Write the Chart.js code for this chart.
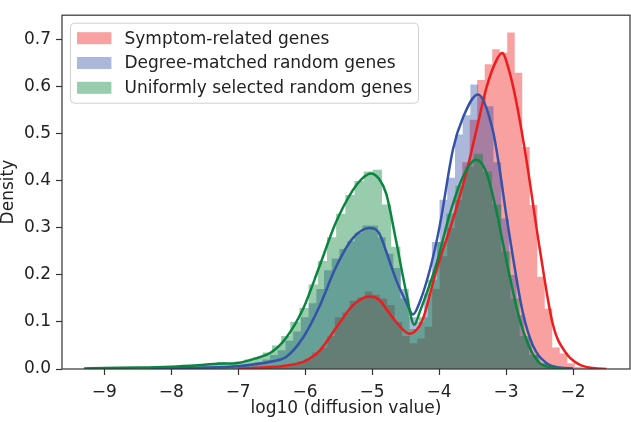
<!DOCTYPE html>
<html>
<head>
<meta charset="utf-8">
<script src="https://cdn.jsdelivr.net/npm/chart.js@4.4.1/dist/chart.umd.min.js"></script>
<style>
  html, body { margin: 0; padding: 0; background: #fff; }
</style>
</head>
<body>
<canvas id="chart" width="631" height="422"></canvas>
<script>
// series names (legend order)
const seriesNames = ['Symptom-related genes', 'Degree-matched random genes', 'Uniformly selected random genes'];

// tick labels
const xTickValues = [-9, -8, -7, -6, -5, -4, -3, -2];
const yTickValues = [0, 0.1, 0.2, 0.3, 0.4, 0.5, 0.6, 0.7];

// histogram bins: first edge, bin width, density per bin
const redBinStart = -6.903, redBinWidth = 0.112;
const redHist = [0.001, 0.002, 0.002, 0.003, 0.004, 0.006, 0.010, 0.016, 0.022, 0.035, 0.045, 0.070,
  0.110, 0.120, 0.145, 0.152, 0.165, 0.158, 0.150, 0.136, 0.100, 0.070, 0.055, 0.065,
  0.090, 0.170, 0.240, 0.300, 0.360, 0.440, 0.530, 0.615, 0.648, 0.680, 0.673, 0.716,
  0.630, 0.472, 0.349, 0.196, 0.128, 0.046, 0.033, 0.012, 0.004, 0.002, 0.001, 0.001];

const blueBinStart = -8.363, blueBinWidth = 0.115;
const blueHist = [0.001, 0.001, 0.001, 0.002, 0.002, 0.002, 0.003, 0.003, 0.004, 0.005, 0.006, 0.007,
  0.008, 0.010, 0.015, 0.020, 0.030, 0.040, 0.060, 0.080, 0.110, 0.140, 0.170,
  0.210, 0.235, 0.255, 0.272, 0.290, 0.305, 0.305, 0.280, 0.245, 0.215, 0.170, 0.110, 0.100, 0.160, 0.270,
  0.360, 0.407, 0.499, 0.540, 0.605, 0.580, 0.559, 0.440, 0.320, 0.200, 0.115, 0.065, 0.030, 0.012, 0.005, 0.002, 0.001];

const greenBinStart = -9.236, greenBinWidth = 0.137;
const greenHist = [0.001, 0.001, 0.002, 0.002, 0.002, 0.003, 0.003, 0.004, 0.004, 0.005, 0.006, 0.008,
  0.010, 0.013, 0.015, 0.012, 0.016, 0.020, 0.025, 0.035, 0.050, 0.070, 0.100, 0.130,
  0.180, 0.230, 0.280, 0.330, 0.370, 0.400, 0.420, 0.424, 0.350, 0.260, 0.150, 0.085,
  0.110, 0.190, 0.270, 0.330, 0.390, 0.430, 0.458, 0.420, 0.350, 0.250, 0.150, 0.070,
  0.030, 0.012, 0.005, 0.002, 0.001];

// kernel density curves
const redKdeX = [-7.0, -6.5, -6.25, -6.03, -5.79, -5.54, -5.29, -5.04, -4.9, -4.79, -4.64, -4.44, -4.3, -4.24, -4.04,
  -3.79, -3.59, -3.44, -3.29, -3.15, -3.06, -2.95, -2.85, -2.7, -2.5, -2.3, -2.1, -1.9, -1.7, -1.5];
const redKdeY = [0.001, 0.004, 0.008, 0.015, 0.038, 0.087, 0.135, 0.154, 0.148, 0.128, 0.100, 0.075, 0.090, 0.107, 0.210,
  0.320, 0.420, 0.510, 0.600, 0.655, 0.672, 0.632, 0.570, 0.448, 0.258, 0.094, 0.033, 0.009, 0.002, 0.000];

const blueKdeX = [-8.3, -7.5, -7.0, -6.75, -6.5, -6.28, -6.03, -5.79, -5.54, -5.29, -5.04, -4.9, -4.79, -4.64, -4.49,
  -4.39, -4.29, -4.14, -3.99, -3.79, -3.64, -3.42, -3.2, -3.1, -3.0, -2.9, -2.75, -2.6, -2.4, -2.2, -2.0];
const blueKdeY = [0.001, 0.003, 0.006, 0.010, 0.016, 0.026, 0.067, 0.132, 0.217, 0.278, 0.300, 0.290, 0.250, 0.189, 0.142,
  0.116, 0.142, 0.210, 0.305, 0.469, 0.536, 0.584, 0.509, 0.428, 0.330, 0.240, 0.120, 0.050, 0.013, 0.003, 0.001];

const greenKdeX = [-9.3, -9.0, -8.5, -8.0, -7.6, -7.3, -7.0, -6.75, -6.5, -6.28, -6.03, -5.79, -5.54, -5.29, -5.15, -5.02,
  -4.9, -4.79, -4.64, -4.49, -4.37, -4.29, -4.14, -4.04, -3.84, -3.64, -3.45, -3.3, -3.15, -3.05, -2.95, -2.8, -2.65,
  -2.5, -2.3, -2.1];
const greenKdeY = [0.001, 0.002, 0.003, 0.005, 0.008, 0.011, 0.013, 0.022, 0.036, 0.067, 0.128, 0.217, 0.312, 0.380, 0.405, 0.416,
  0.405, 0.373, 0.271, 0.162, 0.094, 0.121, 0.180, 0.223, 0.330, 0.410, 0.445, 0.420, 0.340, 0.270, 0.200, 0.107, 0.046,
  0.013, 0.003, 0.001];

const lineColors = ['#ee1c1c', '#3352a8', '#0a8540'];
const fillColors = ['rgba(240,20,20,0.4)', 'rgba(45,75,165,0.4)', 'rgba(0,125,50,0.4)'];

// outline of a histogram as a closed polygon
function histOutline(start, width, heights) {
  const pts = [{ x: start, y: 0 }];
  heights.forEach((h, i) => {
    pts.push({ x: start + i * width, y: h });
    pts.push({ x: start + (i + 1) * width, y: h });
  });
  pts.push({ x: start + heights.length * width, y: 0 });
  return pts;
}
const zip = (xs, ys) => xs.map((x, i) => ({ x: x, y: ys[i] }));

const hists = [
  histOutline(redBinStart, redBinWidth, redHist),
  histOutline(blueBinStart, blueBinWidth, blueHist),
  histOutline(greenBinStart, greenBinWidth, greenHist)
];
const kdes = [zip(redKdeX, redKdeY), zip(blueKdeX, blueKdeY), zip(greenKdeX, greenKdeY)];

const datasets = [];
hists.forEach((pts, i) => datasets.push({
  label: seriesNames[i], data: pts, fill: 'origin', backgroundColor: fillColors[i],
  borderWidth: 0, pointRadius: 0, tension: 0, order: 10 - i
}));
kdes.forEach((pts, i) => datasets.push({
  label: seriesNames[i] + ' KDE', data: pts, fill: false, borderColor: lineColors[i],
  borderWidth: 2.5, pointRadius: 0, cubicInterpolationMode: 'monotone', order: 3 - i
}));

const textColor = '#222';
const font = { family: 'DejaVu Sans', size: 17 };

// matplotlib-like frame and legend box inside the axes
const framePlugin = {
  id: 'frame',
  afterDraw(chart) {
    const { ctx, chartArea: a } = chart;
    ctx.save();
    ctx.strokeStyle = '#333';
    ctx.lineWidth = 1.2;
    ctx.strokeRect(a.left, a.top, a.right - a.left, a.bottom - a.top);

    const bx = a.left + 8.5, by = a.top + 8, bw = 348, bh = 80;
    ctx.beginPath();
    ctx.roundRect(bx, by, bw, bh, 4);
    ctx.fillStyle = 'rgba(255,255,255,0.8)';
    ctx.fill();
    ctx.strokeStyle = '#d0d0d0';
    ctx.lineWidth = 1;
    ctx.stroke();
    ctx.font = '17px "DejaVu Sans"';
    ctx.textBaseline = 'middle';
    ctx.fillStyle = textColor;
    seriesNames.forEach((name, i) => {
      const cy = by + 15 + i * 24.8;
      ctx.fillStyle = fillColors[i];
      ctx.fillRect(bx + 6.5, cy - 6, 34.4, 12);
      ctx.fillStyle = textColor;
      ctx.fillText(name, bx + 54, cy + 1);
    });
    ctx.restore();
  }
};

new Chart(document.getElementById('chart').getContext('2d'), {
  type: 'line',
  data: { datasets: datasets },
  options: {
    responsive: false,
    animation: false,
    devicePixelRatio: 1,
    layout: { padding: { left: 0, top: 1, right: 1, bottom: 0 } },
    plugins: { legend: { display: false }, tooltip: { enabled: false } },
    scales: {
      x: {
        type: 'linear', min: -9.63, max: -1.15,
        afterBuildTicks: s => { s.ticks = xTickValues.map(v => ({ value: v })); },
        afterFit: s => { s.height = 53; },
        ticks: { color: textColor, font: font, padding: 7, maxRotation: 0,
          callback: v => (v < 0 ? '\u2212' + Math.abs(v) : String(v)) },
        grid: { display: true, drawOnChartArea: false, drawTicks: true, tickLength: 6, color: '#333', tickWidth: 1.2 },
        border: { display: false },
        title: { display: true, text: 'log10 (diffusion value)', color: textColor,
          font: { family: 'DejaVu Sans', size: 17, lineHeight: 1 }, padding: { top: 0, bottom: 5 } }
      },
      y: {
        type: 'linear', min: 0, max: 0.7526,
        afterBuildTicks: s => { s.ticks = yTickValues.map(v => ({ value: v })); },
        afterFit: s => { s.width = 62; },
        ticks: { color: textColor, font: font, padding: 5, callback: v => Number(v).toFixed(1) },
        grid: { display: true, drawOnChartArea: false, drawTicks: true, tickLength: 6, color: '#333', tickWidth: 1.2 },
        border: { display: false },
        title: { display: true, text: 'Density', color: textColor,
          font: { family: 'DejaVu Sans', size: 17, lineHeight: 1 }, padding: { top: 0, bottom: 0 } }
      }
    }
  },
  plugins: [framePlugin]
});
</script>
</body>
</html>
